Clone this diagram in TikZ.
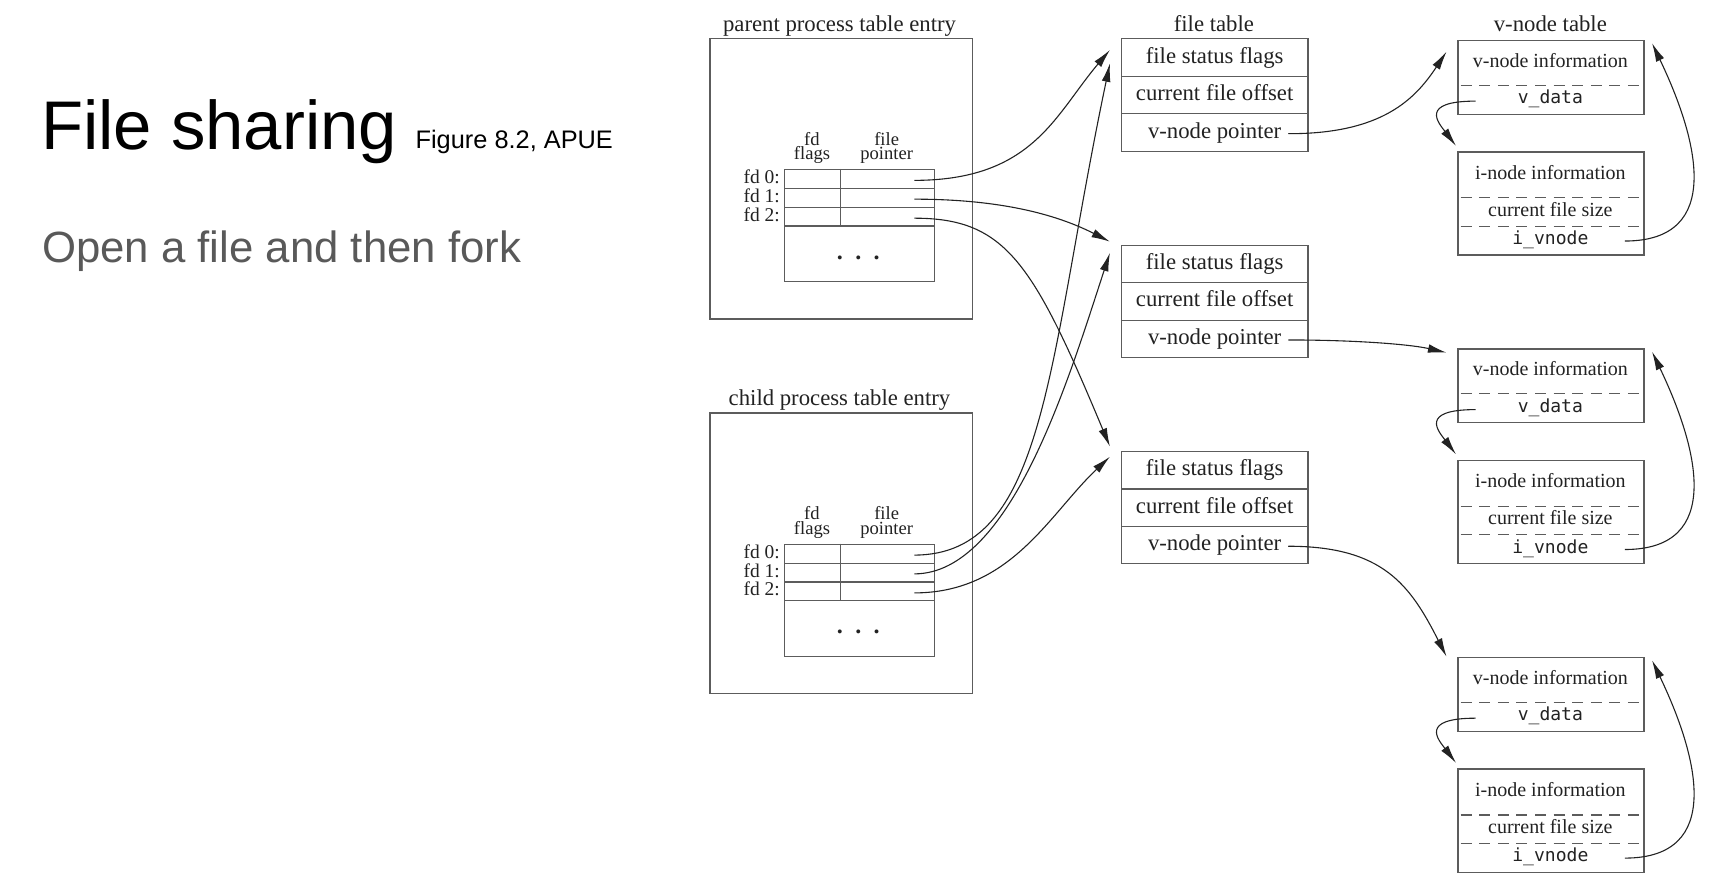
\documentclass[tikz,border=0pt]{standalone}
\usepackage{fontspec}
\setmainfont{Liberation Serif}
\newfontfamily\titlefont{Liberation Sans}
\newfontfamily\codefont{DejaVu Sans Mono}
\usetikzlibrary{arrows.meta}
\definecolor{boxgray}{HTML}{5C5C5C}
\definecolor{inkgray}{HTML}{222222}
\definecolor{subgray}{HTML}{595959}
\begin{document}
\begin{tikzpicture}[x=1pt,y=-1pt,
  boxline/.style={draw=boxgray, line width=1.1pt},
  dashline/.style={draw=boxgray, line width=1.1pt, dash pattern=on 10pt off 7pt, dash phase=-3pt},
  conn/.style={draw=inkgray, line width=1pt, -{Latex[length=17pt,width=8pt]}},
  lbl/.style={inner sep=0pt, anchor=base, text=inkgray, font=\fontsize{20.8}{22}\selectfont},
  small/.style={inner sep=0pt, anchor=base, text=inkgray, font=\fontsize{18.3}{20}\selectfont},
  code/.style={inner sep=0pt, anchor=base, text=inkgray, font=\codefont\fontsize{16.5}{18}\selectfont},
  fdl/.style={inner sep=0pt, anchor=base east, text=inkgray, font=\fontsize{17.8}{18}\selectfont},
  hdr/.style={inner sep=0pt, anchor=south, align=center, text=inkgray, font=\fontsize{17}{13}\selectfont},
  rowbox/.style={boxline, minimum width=170.8pt, minimum height=34.3pt, inner sep=0pt,
    anchor=north west, text=inkgray, font=\fontsize{20.8}{22}\selectfont, text height=14pt, text depth=4pt},
  plainbox/.style={boxline, inner sep=0pt, anchor=north west},
]
\fill[white] (0,0) rectangle (1568,816);
\useasboundingbox (0,0) rectangle (1568,816);

% title block
\node[inner sep=0pt, anchor=base west, font=\titlefont\fontsize{63}{63}\selectfont] (title) at (37.5,137) {File sharing};
\node[inner sep=0pt, anchor=base west, font=\titlefont\fontsize{23.2}{23}\selectfont] (figref) at (380,136) {Figure 8.2, APUE};
\node[inner sep=0pt, anchor=base west, text=subgray, font=\titlefont\fontsize{40}{40}\selectfont] (subtitle) at (38.5,240) {Open a file and then fork};

% process table entries
\foreach \pp/\oy/\lab in {p/0/parent,c/342.8/child}{
  \node[plainbox, minimum width=240pt, minimum height=256.7pt] (\pp box) at (649,34.5+\oy) {};
  \node[lbl] (\pp lab) at (768,28.5+\oy) {\lab\ process table entry};
  \node[plainbox, minimum width=137.5pt, minimum height=17.2pt] (\pp r0) at (717.2,154.6+\oy) {};
  \node[plainbox, minimum width=137.5pt, minimum height=17.2pt] (\pp r1) at (717.2,171.8+\oy) {};
  \node[plainbox, minimum width=137.5pt, minimum height=17.2pt] (\pp r2) at (717.2,189+\oy) {};
  \node[plainbox, minimum width=137.5pt, minimum height=50.9pt] (\pp rest) at (717.2,206.2+\oy) {};
  \draw[boxline] (768.7,154.6+\oy) -- (768.7,206.2+\oy);
  \node[hdr] (\pp hflags) at (742.8,149.6+\oy) {fd\\flags};
  \node[hdr] (\pp hptr) at (811.1,149.6+\oy) {file\\pointer};
  \node[fdl] (\pp f0) at (713.5,167.7+\oy) {fd 0:};
  \node[fdl] (\pp f1) at (713.5,185.1+\oy) {fd 1:};
  \node[fdl] (\pp f2) at (713.5,202.3+\oy) {fd 2:};
  \node[inner sep=0pt, anchor=base, text=inkgray, font=\bfseries\fontsize{22}{22}\selectfont] (\pp dots) at (785.2,237+\oy) {.\hspace{11.3pt}.\hspace{11.3pt}.};
  \coordinate (\pp s0) at (836.4,165+\oy);
  \coordinate (\pp s1) at (836.4,182.2+\oy);
  \coordinate (\pp s2) at (836.4,199.6+\oy);
}

% file table
\node[lbl] (fthead) at (1110.5,28.5) {file table};
\foreach \t/\ty in {1/35,2/223.7,3/412.4}{
  \node[rowbox] (ft\t a) at (1025.2,\ty) {file status flags};
  \node[rowbox] (ft\t b) at (1025.2,\ty+34.3) {current file offset};
  \node[rowbox] (ft\t c) at (1025.2,\ty+68.6) {v-node pointer};
  \coordinate (ft\t s) at (1178.5,\ty+87.3);
}

% v-node table
\node[lbl] (vnhead) at (1418.3,29) {v-node table};
\foreach \g/\vy in {1/36.5,2/318.7,3/601}{
  \node[plainbox, minimum width=170pt, minimum height=67.5pt] (vn\g) at (1333.3,\vy) {};
  \draw[dashline] (1333.3,\vy+41.5) -- (1503.3,\vy+41.5);
  \node[small] (vn\g info) at (1418.3,\vy+25) {v-node information};
  \node[code] (vn\g data) at (1418.3,\vy+58.5) {v\_data};
  \node[plainbox, minimum width=170pt, minimum height=94.3pt] (in\g) at (1333.3,\vy+102) {};
  \draw[dashline] (1333.3,\vy+144.5) -- (1503.3,\vy+144.5);
  \draw[dashline] (1333.3,\vy+170.5) -- (1503.3,\vy+170.5);
  \node[small] (in\g info) at (1418.3,\vy+127.5) {i-node information};
  \node[small] (in\g size) at (1418.3,\vy+161.5) {current file size};
  \node[code] (in\g vn) at (1418.3,\vy+187.5) {i\_vnode};
  \coordinate (vn\g ds) at (1350,\vy+56);
  \coordinate (in\g tip) at (1332,\vy+97);
  \coordinate (in\g s) at (1486.5,\vy+184);
  \coordinate (vn\g top) at (1511.3,\vy+3);
  \draw[conn] (vn\g ds) .. controls (1298,\vy+56) and (1316,\vy+76) .. (in\g tip);
  \draw[conn] (in\g s) .. controls (1578,\vy+184) and (1553,\vy+90) .. (vn\g top);
}

% arrow tips near file table entries
\coordinate (t1a) at (1015.4,45.7);
\coordinate (t1b) at (1015.4,57.9);
\coordinate (t2a) at (1015.4,221.1);
\coordinate (t2b) at (1015.4,231.2);
\coordinate (t3a) at (1015.4,408.6);
\coordinate (t3b) at (1015.4,417.8);
% arrow tips near v-node entries
\coordinate (v1tip) at (1323.3,47.3);
\coordinate (v2tip) at (1323.3,322.6);
\coordinate (v3tip) at (1323.3,600.7);

% parent -> file table
\draw[conn] (ps0) .. controls (945,165) and (965,105) .. (t1a);
\draw[conn] (ps1) .. controls (920,182.2) and (970,198) .. (t2a);
\draw[conn] (ps2) .. controls (920,199.6) and (945,240) .. (t3a);
% child -> file table
\draw[conn] (cs0) .. controls (958,507.8) and (958,330) .. (t1b);
\draw[conn] (cs1) .. controls (925,525) and (978,345) .. (t2b);
\draw[conn] (cs2) .. controls (925,542.4) and (960,470) .. (t3b);

% file table -> v-node table
\draw[conn] (ft1s) .. controls (1265,122.6) and (1295,90) .. (v1tip);
\draw[conn] (ft2s) .. controls (1240,311) and (1290,315) .. (v2tip);
\draw[conn] (ft3s) .. controls (1265,499.7) and (1290,535) .. (v3tip);
\end{tikzpicture}
\end{document}
